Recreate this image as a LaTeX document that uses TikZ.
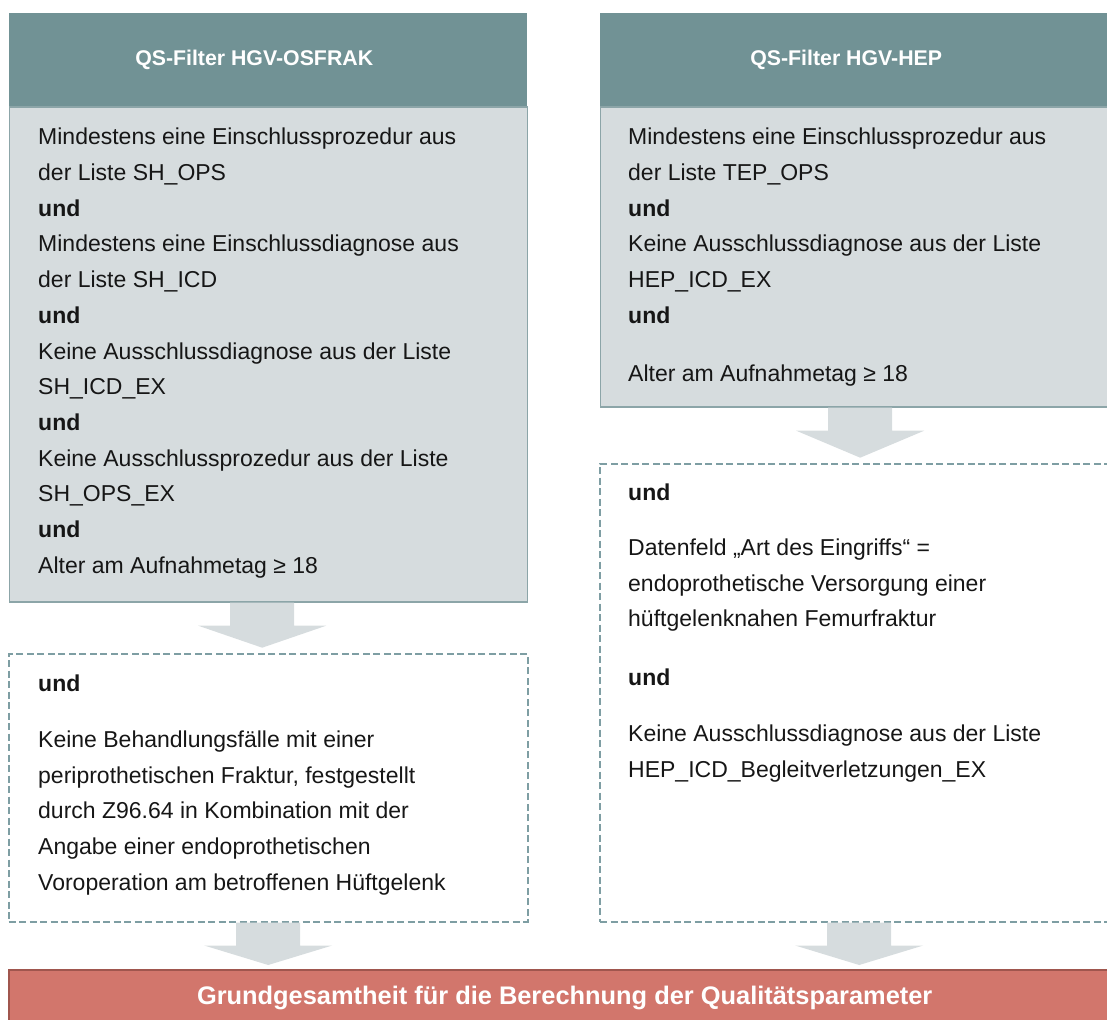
\documentclass[tikz,border=0pt]{standalone}
\usepackage{fontspec}
\setmainfont{Liberation Sans}
\usetikzlibrary{positioning,calc}
\definecolor{HeadTeal}{RGB}{113,146,149}
\definecolor{BodyGray}{RGB}{214,220,222}
\definecolor{FrameTeal}{RGB}{140,165,168}
\definecolor{DashTeal}{RGB}{126,158,163}
\definecolor{ResultRed}{RGB}{210,118,108}
\definecolor{ResultEdge}{RGB}{160,86,78}
\definecolor{TextBlack}{RGB}{22,22,22}

\tikzset{
  headbox/.style={fill=HeadTeal, text=white, inner sep=0pt,
    font=\fontsize{21.3}{24}\selectfont\bfseries, minimum height=93pt},
  bodybox/.style={fill=BodyGray, draw=FrameTeal, line width=1.3pt, inner sep=0pt},
  zusatzbox/.style={draw=DashTeal, line width=1.8pt, dash pattern=on 7pt off 3.5pt, inner sep=0pt},
  listtext/.style={font=\fontsize{23}{35.7}\selectfont, text=TextBlack, align=left,
    inner sep=0pt, anchor=north west},
  resultbox/.style={fill=ResultRed, text=white, inner sep=0pt,
    font=\fontsize{25.4}{28}\selectfont\bfseries, minimum height=56pt},
  arrowgray/.style={fill=BodyGray}
}
% grey block arrow below a box
\newcommand{\flowarrow}[3]{%
  \fill[arrowgray] let \p1=([xshift=#3]#1.south), \p2=(#2.north) in
    (\x1-32pt,\y1) -- (\x1+32pt,\y1) -- (\x1+32pt,\y1-23pt) -- (\x1+64pt,\y1-23pt)
    -- (\x1,\y2+5pt) -- (\x1-64pt,\y1-23pt) -- (\x1-32pt,\y1-23pt) -- cycle;}
% header text sits a little left of the centre
\newcommand{\headtext}[1]{\hspace*{-28pt}#1}

\begin{document}
\begin{tikzpicture}[x=1pt, y=-1pt]
  \useasboundingbox (0,0) rectangle (1107,1019);
  \clip (0,0) rectangle (1107,1019);

  % left column: OSFRAK
  \node[headbox, minimum width=518pt, anchor=north west] (osfrakhead) at (9,13) {\headtext{QS-Filter HGV-OSFRAK}};
  \node[bodybox, minimum width=518pt, minimum height=495pt, anchor=north] (osfrak) at (osfrakhead.south) {};
  \node[listtext] (osfraktext) at (38,128) {%
    Mindestens eine Einschlussprozedur aus\\
    der Liste SH\_OPS\\
    \textbf{und}\\
    Mindestens eine Einschlussdiagnose aus\\
    der Liste SH\_ICD\\
    \textbf{und}\\
    Keine Ausschlussdiagnose aus der Liste\\
    SH\_ICD\_EX\\
    \textbf{und}\\
    Keine Ausschlussprozedur aus der Liste\\
    SH\_OPS\_EX\\
    \textbf{und}\\
    Alter am Aufnahmetag ≥ 18};
  \node[zusatzbox, minimum width=519pt, minimum height=268pt, below=50pt of osfrak] (osfrakzus) {};
  \node[listtext] (osfrakzustext) at (38,675) {%
    \textbf{und}\\[20pt]
    Keine Behandlungsfälle mit einer\\
    periprothetischen Fraktur, festgestellt\\
    durch Z96.64 in Kombination mit der\\
    Angabe einer endoprothetischen\\
    Voroperation am betroffenen Hüftgelenk};

  % right column: HEP
  \node[headbox, minimum width=520pt, anchor=north west] (hephead) at (600,13) {\headtext{QS-Filter HGV-HEP}};
  \node[bodybox, minimum width=520pt, minimum height=300pt, anchor=north] (hep) at (hephead.south) {};
  \node[listtext] (heptext) at (628,128) {%
    Mindestens eine Einschlussprozedur aus\\
    der Liste TEP\_OPS\\
    \textbf{und}\\
    Keine Ausschlussdiagnose aus der Liste\\
    HEP\_ICD\_EX\\
    \textbf{und}\\[22pt]
    Alter am Aufnahmetag ≥ 18};
  \node[zusatzbox, minimum width=520pt, minimum height=458pt, below=55pt of hep] (hepzus) {};
  \node[listtext] (hepzustext) at (628,484) {%
    \textbf{und}\\[19pt]
    Datenfeld „Art des Eingriffs“ =\\
    endoprothetische Versorgung einer\\
    hüftgelenknahen Femurfraktur\\[23pt]
    \textbf{und}\\[20pt]
    Keine Ausschlussdiagnose aus der Liste\\
    HEP\_ICD\_Begleitverletzungen\_EX};

  % result
  \node[resultbox, minimum width=1111pt, anchor=north west] (grundges) at (9,970)
    {Grundgesamtheit für die Berechnung der Qualitätsparameter};
  \draw[ResultEdge, line width=2.5pt] (grundges.south west) |- (grundges.north east);

  % arrows
  \flowarrow{osfrak}{osfrakzus}{-6pt}
  \flowarrow{hep}{hepzus}{0pt}
  \flowarrow{osfrakzus}{grundges}{0pt}
  \flowarrow{hepzus}{grundges}{-1pt}
\end{tikzpicture}
\end{document}
